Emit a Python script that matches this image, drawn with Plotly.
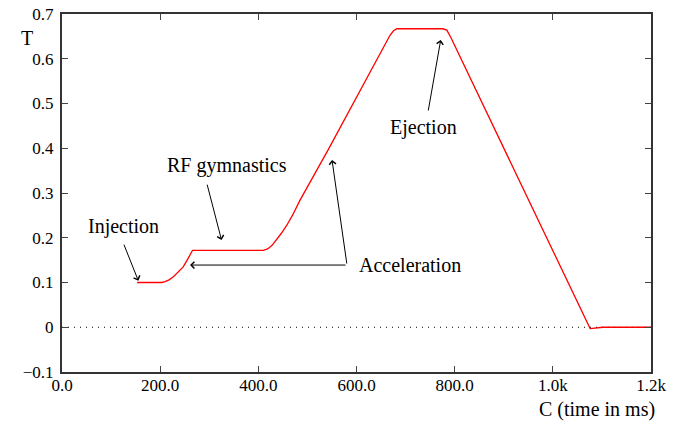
import plotly.graph_objects as go

# Cycle curve
time_ms = [153, 203, 210, 218, 227, 237, 247, 257, 262, 266, 410, 419, 428, 437,
           447, 458, 470, 485, 543, 668, 675, 682, 776, 784, 792, 1076, 1102, 1200]
T_vals = [0.100, 0.100, 0.102, 0.106, 0.113, 0.123, 0.135, 0.154, 0.164, 0.172,
          0.172, 0.175, 0.183, 0.195, 0.210, 0.228, 0.251, 0.284, 0.398, 0.652,
          0.662, 0.667, 0.667, 0.664, 0.648, -0.003, 0.0, 0.0]

zero_x = [0, 1200]
zero_y = [0, 0]

x_tickvals = [0, 200, 400, 600, 800, 1000, 1200]
x_ticktext = ["0.0", "200.0", "400.0", "600.0", "800.0", "1.0k", "1.2k"]
y_tickvals = [-0.1, 0, 0.1, 0.2, 0.3, 0.4, 0.5, 0.6, 0.7]
y_ticktext = ["\u22120.1", "0", "0.1", "0.2", "0.3", "0.4", "0.5", "0.6", "0.7"]

# labels: (text, x, y)
labels = [("Injection", 126, 0.226), ("RF gymnastics", 336, 0.362),
          ("Ejection", 736, 0.447)]
# arrows: (tail_x, tail_y, tip_x, tip_y)
arrows = [(125, 0.188, 155.5, 0.104), (295, 0.322, 325, 0.195),
          (745.7, 0.481, 771.6, 0.642), (580.7, 0.139, 550.1, 0.374),
          (580.7, 0.139, 260.8, 0.139)]

FONT = "Liberation Serif, Times New Roman, serif"

fig = go.Figure()
fig.add_trace(go.Scatter(x=zero_x, y=zero_y, mode="lines",
                         line=dict(color="black", width=1, dash="1px,5px"),
                         hoverinfo="skip", showlegend=False))
fig.add_trace(go.Scatter(x=time_ms, y=T_vals, mode="lines",
                         line=dict(color="#ff0000", width=1.3),
                         showlegend=False))

ann = []
for txt, x, y in labels:
    ann.append(dict(x=x, y=y, xref="x", yref="y", text=txt, showarrow=False,
                    font=dict(family=FONT, size=20, color="black")))
ann.append(dict(x=601, y=0.139, xref="x", yref="y", text="Acceleration",
                showarrow=False, xanchor="left",
                font=dict(family=FONT, size=20, color="black")))
for tx, ty, hx, hy in arrows:
    ann.append(dict(x=hx, y=hy, ax=tx, ay=ty, xref="x", yref="y",
                    axref="x", ayref="y", text="", showarrow=True,
                    arrowhead=4, arrowsize=1.3, arrowwidth=1,
                    arrowcolor="black", standoff=0, startstandoff=0))
ann.append(dict(x=1.010, y=-0.106, xref="paper", yref="paper", yanchor="middle",
                xanchor="right", text="C (time in ms)", showarrow=False,
                font=dict(family=FONT, size=20, color="black")))
ann.append(dict(x=-0.073, y=0.969, xref="paper", yref="paper",
                text="T", showarrow=False,
                font=dict(family=FONT, size=20, color="black")))

axis_common = dict(showgrid=False, zeroline=False, showline=True,
                   linecolor="#333333", linewidth=2, mirror="ticks",
                   ticks="inside", ticklen=6, tickwidth=1, tickcolor="#444444",
                   automargin=False, ticklabeloverflow="allow",
                   tickfont=dict(family=FONT, size=17, color="black"))

fig.update_layout(
    width=675, height=424,
    margin=dict(l=62, r=24, t=14, b=52),
    paper_bgcolor="white", plot_bgcolor="white",
    xaxis=dict(range=[0, 1200.01], tickvals=x_tickvals, ticktext=x_ticktext,
               ticklabelstandoff=-3, **axis_common),
    yaxis=dict(range=[-0.10001, 0.70001], tickvals=y_tickvals,
               ticktext=y_ticktext, ticklabelstandoff=3, **axis_common),
    annotations=ann,
)

fig.write_html("out.html",
               config={"displayModeBar": False},
               post_script="document.body.style.margin='0';"
                           "document.body.style.overflow='hidden';")
